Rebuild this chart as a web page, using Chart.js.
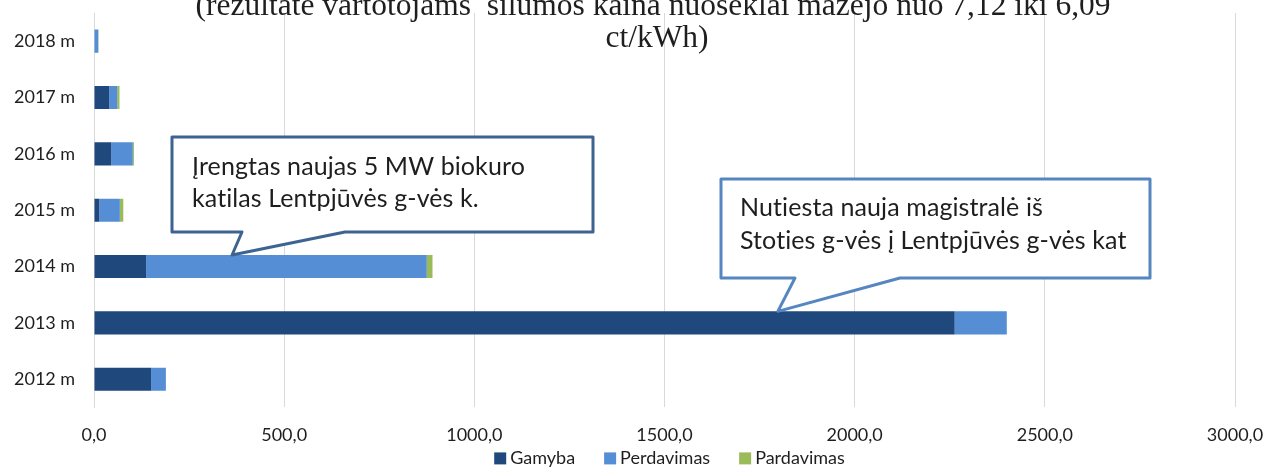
<!DOCTYPE html>
<html>
<head>
<meta charset="utf-8">
<script src="https://cdn.jsdelivr.net/npm/chart.js@4/dist/chart.umd.min.js"></script>
<style>
  html, body { margin: 0; padding: 0; background: #fff; }
  #wrap { width: 1264px; height: 468px; position: relative; }
</style>
</head>
<body>
<div id="wrap"><canvas id="chart"></canvas></div>
<script>
// Categories (top to bottom) and series values
const years = ['2018 m', '2017 m', '2016 m', '2015 m', '2014 m', '2013 m', '2012 m'];
const gamyba = [0, 40, 45, 14, 137, 2263, 150];
const perdavimas = [11, 21, 57, 54, 738, 137, 39];
const pardavimas = [1, 6, 3, 9, 15, 0, 0];
const xTicks = [0, 500, 1000, 1500, 2000, 2500, 3000];

const titleLines = [
  '(rezultate vartotojams  šilumos kaina nuoseklai mažėjo nuo 7,12 iki 6,09',
  'ct/kWh)'
];

// Callout notes, tip anchored on a bar through the scales
const callouts = [
  {
    lines: ['Įrengtas naujas 5 MW biokuro', 'katilas Lentpjūvės g-vės k.'],
    tipValue: 363, tipCategory: '2014 m',
    box: { x1: 172, y1: 137, x2: 593, y2: 232 }, base: [242, 345],
    text: { x: 192, y: [175, 207] },
    color: '#3d6391'
  },
  {
    lines: ['Nutiesta nauja magistralė iš', 'Stoties g-vės į Lentpjūvės g-vės kat'],
    tipValue: 1798, tipCategory: '2013 m',
    box: { x1: 721, y1: 179, x2: 1150, y2: 278 }, base: [795, 900],
    text: { x: 740, y: [216, 249] },
    color: '#5586c0'
  }
];

const textColor = '#1e1e1e';
const gridColor = '#d9d9d9';
const labelFont = '18px Lato';

const titlePlugin = {
  id: 'clippedTitle',
  afterDraw(chart) {
    const ctx = chart.ctx;
    ctx.save();
    ctx.fillStyle = textColor;
    ctx.textAlign = 'center';
    ctx.textBaseline = 'alphabetic';
    ctx.font = '31.5px "Liberation Serif"';
    ctx.fillText(titleLines[0], 653, 15);
    ctx.fillText(titleLines[1], 657, 47);
    ctx.restore();
  }
};

// Excel-like legend: small squares, tight text gap, centred under the plot
const legendPlugin = {
  id: 'bottomLegend',
  afterDraw(chart) {
    const ctx = chart.ctx;
    const sets = chart.data.datasets;
    const box = 12, gap = 4, spacing = 29;
    ctx.save();
    ctx.font = labelFont;
    const widths = sets.map(d => box + gap + ctx.measureText(d.label).width);
    const total = widths.reduce((a, b) => a + b, 0) + spacing * (sets.length - 1);
    const area = chart.chartArea;
    let x = (area.left + area.right) / 2 + 5 - total / 2;
    const y = area.bottom + 51;
    ctx.textBaseline = 'middle';
    ctx.textAlign = 'left';
    sets.forEach((d, i) => {
      ctx.fillStyle = d.backgroundColor;
      ctx.fillRect(x, y - box / 2, box, box);
      ctx.fillStyle = textColor;
      ctx.fillText(d.label, x + box + gap, y);
      x += widths[i] + spacing;
    });
    ctx.restore();
  }
};

const calloutPlugin = {
  id: 'callouts',
  afterDraw(chart) {
    const ctx = chart.ctx;
    const xs = chart.scales.x;
    callouts.forEach(c => {
      const idx = years.indexOf(c.tipCategory);
      const el = chart.getDatasetMeta(0).data[idx];
      const tipX = xs.getPixelForValue(c.tipValue);
      const tipY = el.y - el.height / 2;
      const b = c.box;
      ctx.save();
      ctx.beginPath();
      ctx.moveTo(b.x1, b.y1);
      ctx.lineTo(b.x2, b.y1);
      ctx.lineTo(b.x2, b.y2);
      ctx.lineTo(c.base[1], b.y2);
      ctx.lineTo(tipX, tipY);
      ctx.lineTo(c.base[0], b.y2);
      ctx.lineTo(b.x1, b.y2);
      ctx.closePath();
      ctx.fillStyle = '#fff';
      ctx.fill();
      ctx.lineWidth = 3;
      ctx.lineJoin = 'round';
      ctx.strokeStyle = c.color;
      ctx.stroke();
      ctx.fillStyle = textColor;
      ctx.font = '25px Lato';
      ctx.letterSpacing = '0.1px';
      ctx.textAlign = 'left';
      ctx.textBaseline = 'alphabetic';
      c.lines.forEach((t, i) => ctx.fillText(t, c.text.x, c.text.y[i]));
      ctx.restore();
    });
  }
};

new Chart(document.getElementById('chart'), {
  type: 'bar',
  data: {
    labels: years,
    datasets: [
      { label: 'Gamyba', data: gamyba, backgroundColor: '#1f497d', borderWidth: 0 },
      { label: 'Perdavimas', data: perdavimas, backgroundColor: '#558ed5', borderWidth: 0 },
      { label: 'Pardavimas', data: pardavimas, backgroundColor: '#9bbb59', borderWidth: 0 }
    ]
  },
  options: {
    indexAxis: 'y',
    responsive: true,
    maintainAspectRatio: false,
    animation: false,
    events: [],
    datasets: { bar: { categoryPercentage: 1, barPercentage: 0.41 } },
    layout: { padding: { top: 13, left: 14, right: 0, bottom: 5 } },
    scales: {
      x: {
        stacked: true,
        min: 0,
        max: 3000,
        afterBuildTicks: axis => { axis.ticks = xTicks.map(v => ({ value: v })); },
        afterFit: axis => { axis.paddingRight = 29; },
        ticks: {
          color: textColor,
          font: { family: 'Lato', size: 18 },
          padding: 17,
          callback: v => v.toFixed(1).replace('.', ',')
        },
        grid: { color: gridColor, drawTicks: false },
        border: { display: false }
      },
      y: {
        stacked: true,
        afterFit: axis => { axis.width = 80; },
        ticks: {
          color: textColor,
          font: { family: 'Lato', size: 18 },
          padding: 0,
          crossAlign: 'far'
        },
        grid: { display: false, drawTicks: false },
        border: { display: true, color: gridColor }
      }
    },
    plugins: {
      legend: { display: false },
      tooltip: { enabled: false },
      title: { display: false }
    }
  },
  plugins: [titlePlugin, legendPlugin, calloutPlugin]
});
</script>
</body>
</html>
